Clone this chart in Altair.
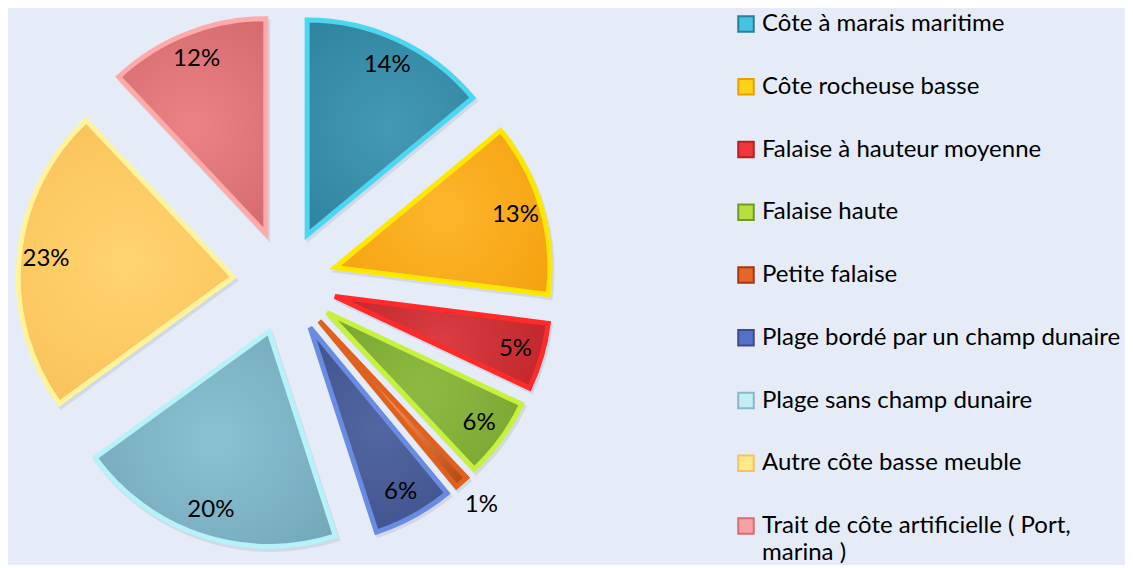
import math
import altair as alt
import pandas as pd

categories = [
    "Côte à marais maritime",
    "Côte rocheuse basse",
    "Falaise à hauteur moyenne",
    "Falaise haute",
    "Petite falaise",
    "Plage bordé par un champ dunaire",
    "Plage sans champ dunaire",
    "Autre côte basse meuble",
    "Trait de côte artificielle ( Port, marina )",
]
legend_labels = [
    "Côte à marais maritime",
    "Côte rocheuse basse",
    "Falaise à hauteur moyenne",
    "Falaise haute",
    "Petite falaise",
    "Plage bordé par un champ dunaire",
    "Plage sans champ dunaire",
    "Autre côte basse meuble",
    "Trait de côte artificielle ( Port,\nmarina )",
]
values = [14, 13, 5, 6, 1, 6, 20, 23, 12]

fill_light = ["#4499B5", "#FDB62C", "#DA3D42", "#8DBB42", "#F58A4E",
              "#52669F", "#8AC2D3", "#FFD470", "#EA8286"]
fill_dark = ["#2A7E9A", "#F29D08", "#B41C21", "#74A02E", "#A8400E",
             "#3C4D8A", "#6FA3B5", "#F8BC52", "#CE6468"]
slice_strokes = ["#4DD6F0", "#FFE800", "#FF2A2A", "#C6F23E", "#E0601E",
                 "#6A8BE2", "#B6F2F8", "#FFF49C", "#FFAAAA"]
legend_fills = ["#45C3E0", "#FFD21A", "#F0363A", "#B4E040", "#E8652A",
                "#5570C8", "#C4EEF4", "#FFE98A", "#F6A2A4"]
legend_strokes = ["#2B7F9A", "#E8A000", "#B81E22", "#6E9A28", "#A03A0C",
                  "#3A4C8C", "#86B8C8", "#F8C060", "#D86E72"]

df = pd.DataFrame({
    "cat": categories,
    "legend": legend_labels,
    "value": values,
    "order": list(range(len(values))),
})

CX, CY = 277, 270
EXPLODE = 52
R = 215

theta_scale = alt.Scale(domain=[0, 100], range=[0, 2 * math.pi])
x_enc = alt.X("ux:Q", scale=alt.Scale(domain=[-1, 1], range=[CX - EXPLODE, CX + EXPLODE]), axis=None)
y_enc = alt.Y("uy:Q", scale=alt.Scale(domain=[-1, 1], range=[CY - EXPLODE, CY + EXPLODE]), axis=None)

base = alt.Chart(df).transform_window(
    cum="sum(value)", sort=[alt.SortField("order")], frame=[None, 0]
).transform_calculate(
    start="datum.cum - datum.value",
    midv="datum.cum - datum.value / 2",
    ux="sin(2 * PI * (datum.cum - datum.value / 2) / 100)",
    uy="-cos(2 * PI * (datum.cum - datum.value / 2) / 100)",
    lr="datum.value < 3 ? 245 : 188",
    txt="datum.value + '%'",
)

arc_enc = dict(
    theta=alt.Theta("start:Q", scale=theta_scale),
    theta2="cum:Q",
    x=x_enc,
    y=y_enc,
)

shadow = base.mark_arc(outerRadius=R, innerRadius=0, strokeWidth=5, strokeJoin="miter",
                       fill="#7C879C", stroke="#7C879C", opacity=0.18,
                       xOffset=2, yOffset=3).encode(**arc_enc)

slice_layers = []
for i, cat in enumerate(categories):
    grad = alt.Gradient(
        gradient="radial",
        x1=0.5, y1=0.5, x2=0.5, y2=0.5, r1=0, r2=0.75,
        stops=[alt.GradientStop(color=fill_light[i], offset=0),
               alt.GradientStop(color=fill_dark[i], offset=1)],
    )
    layer = base.transform_filter(alt.datum.cat == cat).mark_arc(
        outerRadius=R, innerRadius=0, strokeWidth=5, strokeJoin="miter",
        fill=grad, stroke=slice_strokes[i]
    ).encode(**arc_enc)
    slice_layers.append(layer)

pct = base.mark_text(font="Lato", fontSize=24, color="#000000", align="center", baseline="middle").encode(
    theta=alt.Theta("midv:Q", scale=theta_scale),
    radius=alt.Radius("lr:Q", scale=None),
    x=x_enc,
    y=y_enc,
    text="txt:N",
)

leg_y = alt.Y("cat:N", scale=alt.Scale(type="point", domain=categories, range=[12, 514], padding=0), axis=None)

leg_sq = alt.Chart(df).mark_square(size=240, strokeWidth=2, opacity=1).encode(
    x=alt.value(738),
    y=leg_y,
    fill=alt.Fill("cat:N", scale=alt.Scale(domain=categories, range=legend_fills), legend=None),
    stroke=alt.Stroke("cat:N", scale=alt.Scale(domain=categories, range=legend_strokes), legend=None),
)

leg_txt = alt.Chart(df).mark_text(font="Lato", fontSize=24, color="#000000", align="left",
                                 baseline="middle", lineBreak="\n", lineHeight=27).encode(
    x=alt.value(754),
    y=leg_y,
    text="legend:N",
)

pie = alt.layer(shadow, *slice_layers, pct)
legend = alt.layer(leg_sq, leg_txt).resolve_scale(fill="independent", stroke="independent")

chart = alt.layer(pie, legend).resolve_scale(
    y="independent", fill="independent", stroke="independent"
).properties(
    width=1117, height=552, padding=0, background="#E6ECF7"
).configure_view(stroke=None)

chart.save("out.html", embed_options={"renderer": "svg", "actions": False})
